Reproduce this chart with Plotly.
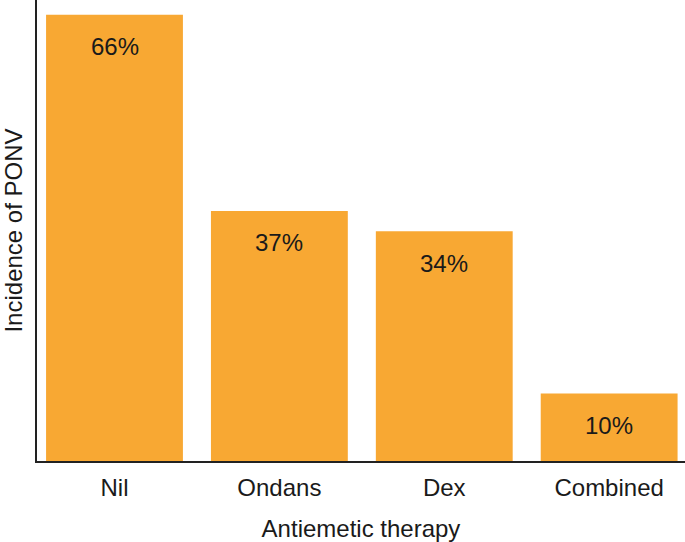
import plotly.graph_objects as go

categories = ["Nil", "Ondans", "Dex", "Combined"]
incidence = [66, 37, 34, 10]
labels = ["66%", "37%", "34%", "10%"]

fig = go.Figure()
fig.add_trace(go.Bar(
    x=list(range(len(categories))), y=incidence,
    marker=dict(color="#F8A833", line=dict(width=0)),
    width=0.83, hoverinfo="skip",
))
for i, (v, t) in enumerate(zip(incidence, labels)):
    fig.add_annotation(x=i, y=v, text=t, showarrow=False, yanchor="middle",
                       yshift=-32, font=dict(size=24, color="#1a1a1a"))

fig.update_layout(
    width=685, height=542,
    margin=dict(l=37, r=0, t=0, b=81),
    plot_bgcolor="white", paper_bgcolor="white",
    font=dict(family="Liberation Sans, Arial, sans-serif", size=24, color="#1a1a1a"),
    showlegend=False,
)
fig.update_xaxes(
    tickmode="array", tickvals=list(range(len(categories))), ticktext=categories,
    range=[-0.47, 3.46], showgrid=False, zeroline=False, automargin=False,
    showline=True, linecolor="#222", linewidth=2, ticks="",
    tickfont=dict(size=24), ticklabelstandoff=4,
    title=dict(text="Antiemetic therapy", font=dict(size=24), standoff=20),
)
fig.update_yaxes(
    range=[0, 68.2], showgrid=False, zeroline=False, showticklabels=False, automargin=False,
    showline=True, linecolor="#222", linewidth=2, ticks="",
    title=dict(text="Incidence of PONV", font=dict(size=24), standoff=8),
)
fig.write_html("out.html", config={"displayModeBar": False},
               post_script="document.body.style.margin='0';")
